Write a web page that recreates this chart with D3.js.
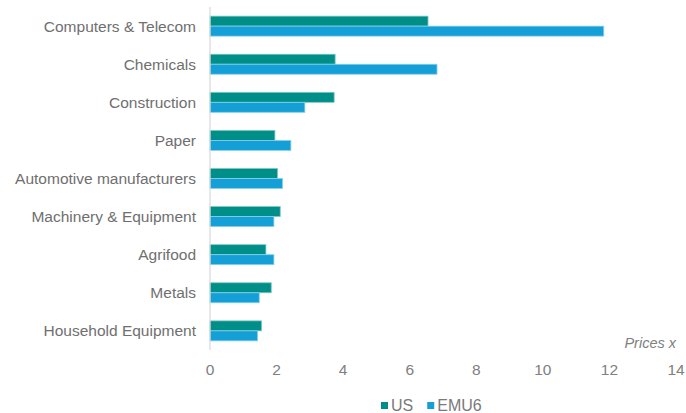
<!DOCTYPE html>
<html>
<head>
<meta charset="utf-8">
<script src="https://cdn.jsdelivr.net/npm/d3@7"></script>
<style>
  body { margin: 0; background: #fff; }
  svg text { font-family: "Liberation Sans", Arial, sans-serif; }
</style>
</head>
<body>
<svg id="chart" width="686" height="413"></svg>
<script>
// Sectors, top to bottom
var sectors = ["Computers & Telecom", "Chemicals", "Construction", "Paper",
  "Automotive manufacturers", "Machinery & Equipment", "Agrifood", "Metals",
  "Household Equipment"];
var usValues   = [6.55, 3.76, 3.73, 1.95, 2.03, 2.11, 1.68, 1.84, 1.55];
var emu6Values = [11.83, 6.82, 2.85, 2.43, 2.18, 1.92, 1.92, 1.48, 1.43];
var seriesNames = ["US", "EMU6"];
var xTicks = [0, 2, 4, 6, 8, 10, 12, 14];

var colors = { "US": "#008e89", "EMU6": "#14a0d6" };

var margin = {top: 7, right: 10, bottom: 63, left: 210},
    width = 686 - margin.left - margin.right,
    height = 413 - margin.top - margin.bottom;

var svg = d3.select("#chart");
var g = svg.append("g")
    .attr("transform", "translate(" + margin.left + "," + margin.top + ")");

var x = d3.scaleLinear().domain([0, 14]).range([0, 466]);
var y = d3.scaleBand().domain(sectors).range([0, height]).paddingInner(0.475).paddingOuter(0.24);
var y1 = d3.scaleBand().domain(seriesNames).range([0, y.bandwidth()]);

var rows = sectors.map(function(s, i) {
  return { sector: s, values: [
    { key: "US", value: usValues[i] },
    { key: "EMU6", value: emu6Values[i] }
  ]};
});

// bars
var groups = g.selectAll(".row")
    .data(rows)
  .enter().append("g")
    .attr("class", "row")
    .attr("transform", function(d) { return "translate(0," + y(d.sector) + ")"; });

groups.selectAll("rect")
    .data(function(d) { return d.values; })
  .enter().append("rect")
    .attr("x", x(0))
    .attr("y", function(d) { return y1(d.key); })
    .attr("width", function(d) { return x(d.value) - x(0); })
    .attr("height", y1.bandwidth())
    .attr("fill", function(d) { return colors[d.key]; })
    .attr("stroke", function(d) { return d.key == "US" ? "#7fc8c4" : "#8ad0ea"; })
    .attr("stroke-width", 0.8);

// vertical axis line
g.append("line")
    .attr("x1", 0).attr("x2", 0)
    .attr("y1", 0).attr("y2", height)
    .attr("stroke", "#d9d9d9")
    .attr("stroke-width", 1.2);

// category labels
g.selectAll(".cat")
    .data(sectors)
  .enter().append("text")
    .attr("class", "cat")
    .attr("x", -14)
    .attr("y", function(d) { return y(d) + y.bandwidth() / 2; })
    .attr("dy", "0.35em")
    .attr("text-anchor", "end")
    .attr("fill", "#6f6f6f")
    .style("font-size", "15.5px")
    .text(function(d) { return d; });

// x tick labels
g.selectAll(".tick-label")
    .data(xTicks)
  .enter().append("text")
    .attr("class", "tick-label")
    .attr("x", function(d) { return x(d); })
    .attr("y", height + 20)
    .attr("dy", "0.35em")
    .attr("text-anchor", "middle")
    .attr("fill", "#808080")
    .style("font-size", "15.5px")
    .text(function(d) { return d; });

// axis title
g.append("text")
    .attr("x", x(14))
    .attr("y", height - 2)
    .attr("text-anchor", "end")
    .attr("fill", "#808080")
    .style("font-size", "14.5px")
    .style("font-style", "italic")
    .text("Prices x");

// legend
var legend = svg.append("g").attr("transform", "translate(381,411)");
var lx = 0;
seriesNames.forEach(function(name) {
  legend.append("rect")
    .attr("x", lx).attr("y", -9)
    .attr("width", 7).attr("height", 7)
    .attr("fill", colors[name]);
  var t = legend.append("text")
    .attr("x", lx + 10).attr("y", 0)
    .attr("fill", "#7a7a7a")
    .style("font-size", "16px")
    .text(name);
  lx += 10 + t.node().getComputedTextLength() + 14;
});
</script>
</body>
</html>
